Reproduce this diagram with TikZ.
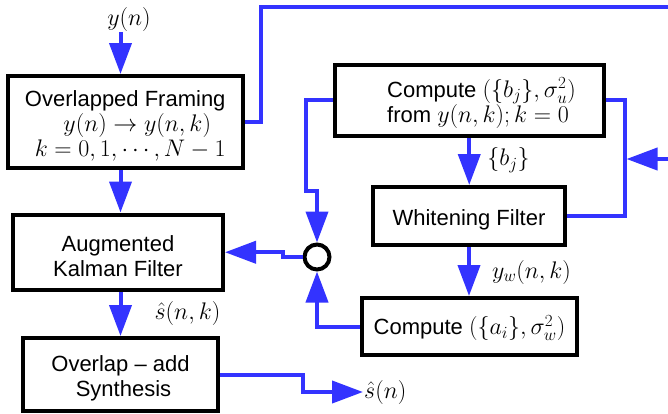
\RequirePackage{fix-cm}
\documentclass[tikz,border=0pt]{standalone}
\usepackage[no-math]{fontspec}
\setmainfont{Liberation Sans}
\usetikzlibrary{arrows.meta}
\DeclareMathSizes{22}{24}{17}{12}
\definecolor{flow}{RGB}{51,51,255}
\begin{document}
\begin{tikzpicture}[x=1pt,y=-1pt,
  font=\fontsize{22}{25}\selectfont,
  block/.style={draw=black, line width=4pt, rectangle, inner sep=0pt},
  caption/.style={inner sep=0pt, align=center},
  junction/.style={draw=black, line width=4pt, circle, inner sep=0pt, minimum size=25pt},
  tag/.style={inner sep=1pt},
  wire/.style={draw=flow, line width=4pt},
  feed/.style={wire, -{Triangle[length=31pt,width=22pt]}},
  ]
\useasboundingbox (0,0) rectangle (668,413);

% left column: framing, Kalman filter, overlap-add
\node[block, minimum width=235.5pt, minimum height=92pt] (frame) at (125.25,122) {};
\node[caption] (frametext) at ([yshift=-4pt]frame.center)
  {Overlapped Framing\\\hspace*{24pt}$y(n)\rightarrow y(n,k)$\\\hspace*{10pt}$k=0,1,\cdots,N-1$};
\node[block, minimum width=210pt, minimum height=75.5pt] (kalman) at (118,252.25) {};
\node[caption] (kalmantext) at ([yshift=-4pt]kalman.center) {Augmented\\Kalman Filter};
\node[block, minimum width=195pt, minimum height=73pt] (ola) at (120.5,374.5) {};
\node[caption] (olatext) at ([yshift=-3.5pt]ola.center) {Overlap -- add\\\hspace*{6pt}Synthesis};

% right column: parameter estimation
\node[block, minimum width=268.5pt, minimum height=71.5pt] (bj) at (469.25,100.25) {};
\node[caption, anchor=west, align=left] (bjtext) at (387,103)
  {Compute $(\{b_j\},\sigma_u^2)$\\from $y(n,k);k=0$};
\node[block, minimum width=192pt, minimum height=58pt] (wf) at (469,216) {};
\node[caption] (wftext) at ([yshift=-4pt]wf.center) {Whitening Filter};
\node[block, minimum width=215pt, minimum height=57pt] (ai) at (469.5,326.5) {};
\node[caption] (aitext) at ([yshift=-1.5pt]ai.center) {Compute $(\{a_i\},\sigma_w^2)$};

% combining point
\node[junction] (sum) at (317,257) {};

% signal labels
\node[tag] (yin) at (129,19) {$y(n)$};
\node[tag] (shatk) at (187.5,313) {$\hat s(n,k)$};
\node[tag, anchor=west] (shat) at (363,392) {$\hat s(n)$};
\node[tag] (bjlab) at (508.5,160) {$\{b_j\}$};
\node[tag] (ywlab) at (531.5,272) {$y_w(n,k)$};

% helper points
\coordinate (colL) at (120.5,0);
\coordinate (topbend) at (260.5,7);
\coordinate (topout) at (670,7);
\coordinate (jogL) at (306,190.5);
\coordinate (rin) at (670,159);
\coordinate (rjoin) at (626.5,159);

% main signal path
\draw[feed] (colL |- yin.south) -- (colL |- frame.north);
\draw[feed] (colL |- frame.south) -- (colL |- kalman.north);
\draw[feed] (colL |- kalman.south) -- (colL |- ola.north);
\draw[feed] (ola.east) -- ++(83,0) |- (shat.west);
\draw[wire] (frame.east) -| (topbend) -- (topout);

% estimation path
\draw[feed] (bj.south) -- (bj.south |- wf.north);
\draw[feed] (wf.south) -- (wf.south |- ai.north);
\draw[wire] (bj.east) -- ++(19,0) |- (wf.east);
\draw[feed] (rin) -- (rjoin);

% into and out of the combining point
\draw[feed] (bj.west) -| (jogL) -| (sum.north);
\draw[feed] (ai.west) -| (sum.south);
\draw[feed] (sum.west) -- ++(-20,0) |- (kalman.east);
\end{tikzpicture}
\end{document}
